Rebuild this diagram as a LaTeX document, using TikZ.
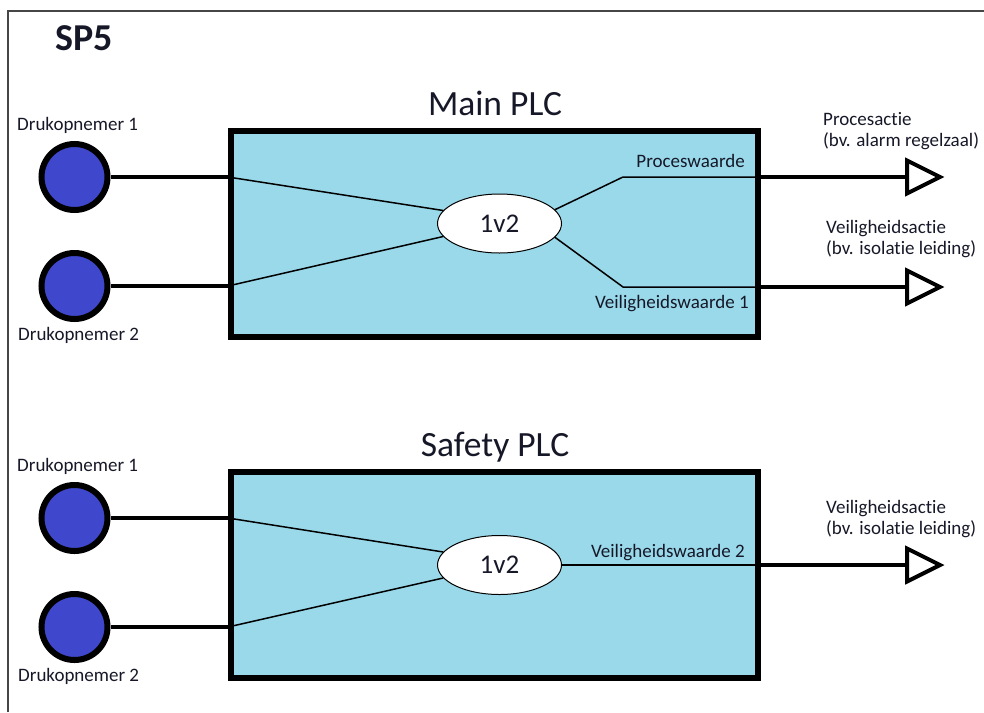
\documentclass[tikz,border=0pt]{standalone}
\usepackage{fontspec}
\setmainfont{Carlito}[Ligatures=CommonOff]
\usetikzlibrary{shapes.geometric}
\definecolor{plcfill}{RGB}{153,217,234}
\definecolor{sensfill}{RGB}{63,72,204}
\definecolor{txt}{RGB}{22,24,40}
\definecolor{frame}{RGB}{70,70,70}
\tikzset{
  lbl/.style={inner sep=0pt, text=txt, font=\fontsize{19}{22}\selectfont},
  title/.style={inner sep=0pt, text=txt, font=\fontsize{35.5}{40}\selectfont},
  plcbox/.style={draw=black, fill=plcfill, line width=6pt, minimum width=527pt, minimum height=206pt, inner sep=0pt},
  sensor/.style={circle, draw=black, fill=sensfill, line width=6pt, minimum size=66pt, inner sep=0pt},
  voter/.style={ellipse, draw=black, fill=white, line width=1pt, minimum width=124pt, minimum height=59pt, inner sep=0pt, font=\fontsize{27}{30}\selectfont, text=txt},
  thick wire/.style={draw=black, line width=3.5pt},
  thin wire/.style={draw=black, line width=1.5pt},
  arrowtip/.style={draw=black, fill=white, line width=4pt, line join=miter},
}
\begin{document}
\begin{tikzpicture}[x=1pt,y=-1pt]
\useasboundingbox (0,0) rectangle (984,712);
% outer frame
\draw[frame, line width=2.5pt] (8,712) -- (8,11) -- (984,11);
\node[inner sep=0pt, anchor=base west, text=txt, font=\bfseries\fontsize{38}{42}\selectfont] (sp5) at (55,50) {SP5};

% ================= Main PLC =================
\node[title, anchor=base] (t1) at (495,115) {Main PLC};
\node[plcbox] (mainbox) at (494.5,234) {};
\node[sensor] (m1) at (74.5,177) {};
\node[sensor] (m2) at (74.5,286) {};
\node[lbl, anchor=base west] (m1l) at (17,130) {Drukopnemer 1};
\node[lbl, anchor=base west] (m2l) at (18,340) {Drukopnemer 2};
\node[voter] (e1) at (499.5,223.5) {1v2};
\coordinate (mk1) at (623,177);
\coordinate (mk2) at (623,287);
\coordinate (ma1) at (907,177);
\coordinate (ma2) at (907,287);
\draw[thick wire] (m1.east) -- (m1 -| mainbox.west);
\draw[thick wire] (m2.east) -- (m2 -| mainbox.west);
\draw[thin wire] (m1 -| mainbox.west) -- (e1.167);
\draw[thin wire] (m2 -| mainbox.west) -- (e1.193);
\draw[thin wire] (e1.14) -- (mk1) -- (mk1 -| mainbox.east);
\draw[thin wire] (e1.-14) -- (mk2) -- (mk2 -| mainbox.east);
\draw[thick wire] (mk1 -| mainbox.east) -- (ma1);
\draw[thick wire] (mk2 -| mainbox.east) -- (ma2);
\draw[arrowtip] (ma1) -- ++(0,-16.5) -- ++(33,16.5) -- ++(-33,16.5) -- cycle;
\draw[arrowtip] (ma2) -- ++(0,-16.5) -- ++(33,16.5) -- ++(-33,16.5) -- cycle;
\node[lbl, anchor=base east] (pw) at (745,167) {Proceswaarde};
\node[lbl, anchor=base east] (vw1) at (749,308) {Veiligheidswaarde 1};
\node[lbl, anchor=base west] (pa1) at (823,125) {Procesactie};
\node[lbl, anchor=base west] (pa2) at (823,146) {(bv. alarm regelzaal)};
\node[lbl, anchor=base west] (va1) at (826,233) {Veiligheidsactie};
\node[lbl, anchor=base west] (va2) at (826,254) {(bv. isolatie leiding)};

% ================= Safety PLC =================
\node[title, anchor=base] (t2) at (495,456) {Safety PLC};
\node[plcbox] (safebox) at (494.5,575) {};
\node[sensor] (s1) at (74.5,518) {};
\node[sensor] (s2) at (74.5,627) {};
\node[lbl, anchor=base west] (s1l) at (17,471) {Drukopnemer 1};
\node[lbl, anchor=base west] (s2l) at (18,681) {Drukopnemer 2};
\node[voter] (e2) at (499.5,565) {1v2};
\coordinate (sa1) at (907,565);
\draw[thick wire] (s1.east) -- (s1 -| safebox.west);
\draw[thick wire] (s2.east) -- (s2 -| safebox.west);
\draw[thin wire] (s1 -| safebox.west) -- (e2.167);
\draw[thin wire] (s2 -| safebox.west) -- (e2.193);
\draw[thin wire] (e2.east) -- (e2.east -| safebox.east);
\draw[thick wire] (e2.east -| safebox.east) -- (sa1);
\draw[arrowtip] (sa1) -- ++(0,-16.5) -- ++(33,16.5) -- ++(-33,16.5) -- cycle;
\node[lbl, anchor=base east] (vw2) at (745,557) {Veiligheidswaarde 2};
\node[lbl, anchor=base west] (sv1) at (826,513) {Veiligheidsactie};
\node[lbl, anchor=base west] (sv2) at (826,534) {(bv. isolatie leiding)};
\end{tikzpicture}
\end{document}
